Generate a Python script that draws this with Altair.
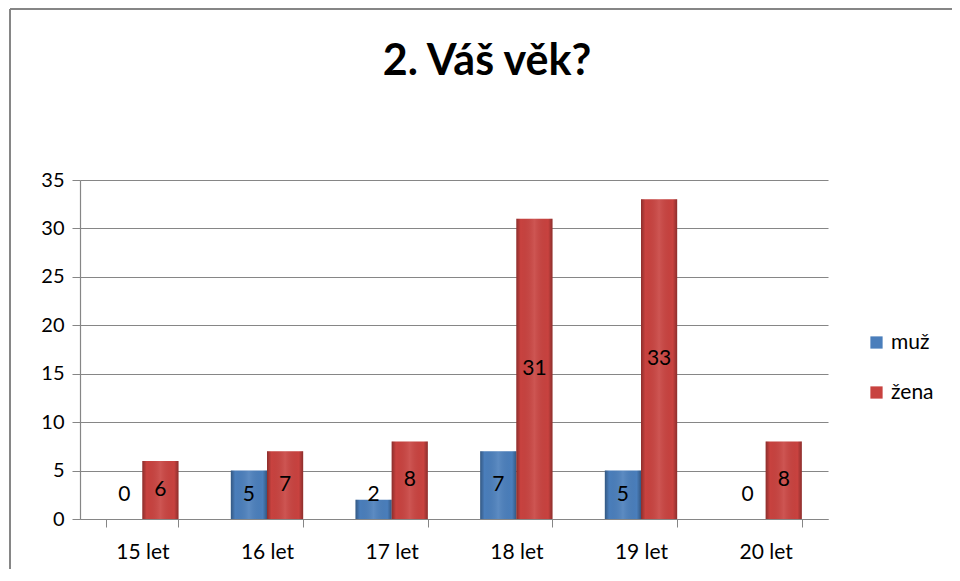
import altair as alt
import pandas as pd

categories = ["15 let", "16 let", "17 let", "18 let", "19 let", "20 let"]
series = ["muž", "žena"]
muz = [0, 5, 2, 7, 5, 0]
zena = [6, 7, 8, 31, 33, 8]
colors = ["#4a7ebb", "#c8423f"]
title_text = "2. Váš věk?"

rows = []
for i, c in enumerate(categories):
    rows.append({"kat": c, "pohlavi": "muž", "pocet": muz[i]})
    rows.append({"kat": c, "pohlavi": "žena", "pocet": zena[i]})
df = pd.DataFrame(rows)

FONT = "Lato"
W, H = 748, 339

x_enc = alt.X(
    "kat:N",
    sort=categories,
    scale=alt.Scale(paddingInner=0.42, paddingOuter=0.21),
    axis=alt.Axis(
        title=None, labelAngle=0, tickBand="extent", grid=False,
        labelFontSize=21, labelFont=FONT, labelColor="#000000",
        labelPadding=14, tickSize=8, tickColor="#868686",
        domainColor="#868686", domainWidth=1.2,
    ),
)
xoff = alt.XOffset("pohlavi:N", sort=series,
                   scale=alt.Scale(domain=series, paddingInner=0, paddingOuter=0))
y_enc = alt.Y(
    "pocet:Q",
    scale=alt.Scale(domain=[0, 35], nice=False),
    axis=alt.Axis(
        title=None, values=[0, 5, 10, 15, 20, 25, 30, 35],
        labelFontSize=20, labelFont=FONT, labelColor="#000000",
        labelPadding=8, tickSize=8, tickColor="#868686",
        domainColor="#868686", domainWidth=1.2,
        gridColor="#868686", gridWidth=1.2,
    ),
)

base = alt.Chart(df)

bars = base.mark_bar().encode(
    x=x_enc, xOffset=xoff, y=y_enc,
    color=alt.Color(
        "pohlavi:N",
        scale=alt.Scale(domain=series, range=colors),
        legend=alt.Legend(
            title=None, orient="none", legendX=786, legendY=152,
            symbolType="square", symbolSize=150, symbolStrokeWidth=0,
            labelFontSize=21, labelFont=FONT, labelColor="#000000",
            rowPadding=28, labelOffset=4,
        ),
    ),
)

shade = base.mark_bar(
    fill=alt.Gradient(
        gradient="linear", x1=0, x2=1, y1=0, y2=0,
        stops=[
            alt.GradientStop(offset=0, color="rgba(0,0,0,0.30)"),
            alt.GradientStop(offset=0.12, color="rgba(0,0,0,0.0)"),
            alt.GradientStop(offset=0.5, color="rgba(255,255,255,0.10)"),
            alt.GradientStop(offset=0.88, color="rgba(0,0,0,0.0)"),
            alt.GradientStop(offset=1, color="rgba(0,0,0,0.30)"),
        ],
    ),
).encode(x=x_enc, xOffset=xoff, y=y_enc)

labels = base.transform_calculate(
    ly="max(datum.pocet / 2, 2.5)"
).mark_text(fontSize=21, font=FONT, color="#000000", baseline="middle").encode(
    x=alt.X("kat:N", sort=categories), xOffset=xoff,
    y=alt.Y("ly:Q"), text=alt.Text("pocet:Q"),
)

one = alt.Data(values=[{"a": 1}])
border_top = alt.Chart(one).mark_rule(stroke="#868686", strokeWidth=2).encode(
    x=alt.value(-70), x2=alt.value(872), y=alt.value(-171)
)
border_left = alt.Chart(one).mark_rule(stroke="#868686", strokeWidth=2).encode(
    x=alt.value(-70), y=alt.value(-171), y2=alt.value(390)
)

title = alt.Chart(alt.Data(values=[{"t": title_text}])).mark_text(
    fontSize=43, font=FONT, fontWeight="bold", color="#000000",
    baseline="alphabetic", align="center"
).encode(x=alt.value(407), y=alt.value(-105), text="t:N")

chart = alt.layer(border_top, border_left, bars, shade, labels, title).properties(
    width=W, height=H,
    padding={"left": 72, "top": 172, "right": 124, "bottom": 50},
    autosize=alt.AutoSizeParams(type="none"),
).configure_view(stroke=None)

chart.save("out.html", embed_options={"renderer": "svg", "actions": False})
